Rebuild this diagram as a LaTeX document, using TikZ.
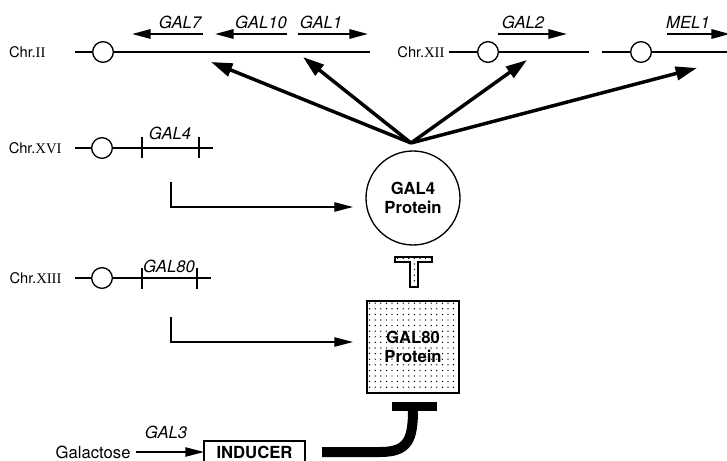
\documentclass[tikz,border=0pt]{standalone}
\usepackage{fontspec}
\setmainfont{TeX Gyre Heros}
\newfontfamily\numfont{Liberation Serif}
\usetikzlibrary{arrows.meta,patterns}

\pgfdeclarepatternformonly{sparsedots}{\pgfqpoint{-1pt}{-1pt}}{\pgfqpoint{4pt}{4pt}}{\pgfqpoint{4.2pt}{4.2pt}}{%
  \pgfpathcircle{\pgfqpoint{0pt}{0pt}}{0.55pt}\pgfusepath{fill}}

\tikzset{every picture/.style={line width=0.75pt}}

\begin{document}
\begin{tikzpicture}[
            x=0.75pt,
            y=0.75pt,
            yscale=-1,
            xscale=1,
            every node/.style={text=black,inner sep=0.75pt},
            chrlab/.style={font=\fontsize{11}{12}\selectfont,anchor=east},
            gene/.style={font=\fontsize{12.5}{14}\selectfont\itshape,anchor=south},
            cen/.style={circle,draw,fill=white,minimum size=15.5pt,inner sep=0pt,line width=1pt},
            chrline/.style={line width=1.1pt},
            genearrow/.style={line width=1.6pt,-{Triangle[length=14pt,width=7pt]}},
            bindarrow/.style={line width=2.6pt,-{Triangle[length=16pt,width=10pt]}},
            exprarrow/.style={line width=1pt,-{Triangle[length=14pt,width=7pt]}},
            protein/.style={font=\fontsize{12.5}{14}\selectfont\bfseries,align=center,draw,line width=1pt}
        ]
            \useasboundingbox (0,0) rectangle (727,460);

            % Chr. II
            \node (chrII) [chrlab] at (47,52) {Chr.{\numfont II}};
            \draw [chrline] (75,52) -- (370,52);
            \node (cenII) [cen] at (103,52) {};
            \draw [genearrow] (203,34) -- (132,34);
            \node (gal7) [gene] at (180,30) {GAL7};
            \draw [genearrow] (287,34) -- (215,34);
            \node (gal10) [gene] at (261,30) {GAL10};
            \draw [genearrow] (298,34) -- (368,34);
            \node (gal1) [gene] at (321,30) {GAL1};

            % Chr. XII
            \node (chrXII) [chrlab] at (446,52) {Chr.{\numfont XII}};
            \draw [chrline] (449,52) -- (589,52);
            \node (cenXII) [cen] at (488,52) {};
            \draw [chrline] (602,52) -- (727,52);
            \node (cenMEL) [cen] at (641,52) {};
            \draw [genearrow] (498,34) -- (567,34);
            \node (gal2) [gene] at (523,30) {GAL2};
            \draw [genearrow] (667,34) -- (730,34);
            \node (mel1) [gene] at (688,30) {MEL1};

            % Chr. XVI
            \node (chrXVI) [chrlab] at (63,148) {Chr.{\numfont XVI}};
            \draw [chrline] (75,148) -- (213,148);
            \draw [chrline] (142,137) -- (142,158);
            \draw [chrline] (199,137) -- (199,158);
            \node (cenXVI) [cen] at (102,148) {};
            \node (gal4) [gene] at (170,141) {GAL4};

            % Chr. XIII
            \node (chrXIII) [chrlab] at (63,278) {Chr.{\numfont XIII}};
            \draw [chrline] (75,278) -- (211,278);
            \draw [chrline] (142,268) -- (142,289);
            \draw [chrline] (197,268) -- (197,289);
            \node (cenXIII) [cen] at (102,278) {};
            \node (gal80) [gene] at (169,274) {GAL80};

            % proteins
            \node (gal4p) [protein,circle,minimum size=70.5pt,inner sep=0pt] at (413,198) {GAL4\\Protein};
            \node (gal80p) [protein,pattern=sparsedots,minimum width=69pt,minimum height=69pt] at (413,347) {GAL80\\Protein};

            % GAL4 binds the UAS
            \coordinate (hub) at (411,143);
            \coordinate (uas7) at (211,62);
            \coordinate (uas1) at (303,57);
            \coordinate (uas2) at (527,60);
            \coordinate (uasM) at (697,68);
            \draw [bindarrow] (hub) -- (uas7);
            \draw [bindarrow] (hub) -- (uas1);
            \draw [bindarrow] (hub) -- (uas2);
            \draw [bindarrow] (hub) -- (uasM);

            % expression
            \coordinate (out4) at (171,182);
            \coordinate (in4) at (353,207);
            \draw [exprarrow] (out4) |- (in4);
            \coordinate (out80) at (171,317);
            \coordinate (in80) at (353,342);
            \draw [exprarrow] (out80) |- (in80);

            % GAL80 blocks GAL4
            \draw [pattern=sparsedots,line width=1pt] (395,257) -- (432,257) -- (432,262) -- (418,262) -- (418,287) -- (410,287) -- (410,262) -- (395,262) -- cycle;

            % inducer
            \node (galactose) [font=\fontsize{12.5}{14}\selectfont,anchor=east] at (132,452) {Galactose};
            \node (gal3) [gene] at (166,440) {GAL3};
            \draw [line width=1pt] (204,441) rectangle (305,472);
            \node (inducer) [font=\fontsize{12.5}{14}\selectfont\bfseries] at (254.5,452) {INDUCER};
            \coordinate (indin) at (204,452);
            \draw [exprarrow] ([xshift=3pt]galactose.east) -- (indin);

            % inducer blocks GAL80
            \fill (392,402) rectangle (437,411);
            \draw [line width=7.5pt] (322,452) -- (380,452) .. controls (408,452) and (413,440) .. (413,409);
        \end{tikzpicture}
\end{document}
